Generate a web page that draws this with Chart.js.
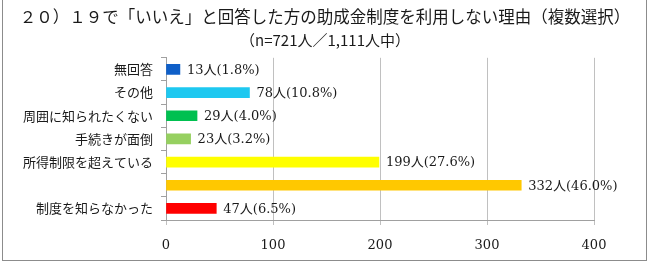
<!DOCTYPE html>
<html>
<head>
<meta charset="utf-8">
<script src="https://cdn.jsdelivr.net/npm/chart.js@4"></script>
<style>
    html, body { margin: 0; padding: 0; background: #fff; }
    #wrap { width: 650px; height: 263px; }
</style>
</head>
<body>
<div id="wrap"><canvas id="reasonChart" width="650" height="263"></canvas></div>
<script>
const titleText = '２０）１９で「いいえ」と回答した方の助成金制度を利用しない理由（複数選択）';
const subtitleText = '（n=721人／1,111人中）';

const categories = ['無回答', 'その他', '周囲に知られたくない', '手続きが面倒', '所得制限を超えている', '', '制度を知らなかった'];
const counts = [13, 78, 29, 23, 199, 332, 47];
const valueLabels = ['13人(1.8%)', '78人(10.8%)', '29人(4.0%)', '23人(3.2%)', '199人(27.6%)', '332人(46.0%)', '47人(6.5%)'];
const barColors = ['#0f5fc8', '#1ec8f0', '#00c050', '#96d060', '#ffff00', '#ffc800', '#ff0000'];
const xTicks = [0, 100, 200, 300, 400];

const jpFont = '"Noto Sans CJK JP", "Noto Sans", sans-serif';
const numFont = '"DejaVu Serif", "Noto Sans CJK JP", serif';

// frame around the whole picture
const framePlugin = {
    id: 'frame',
    afterDraw(chart) {
        const ctx = chart.ctx;
        ctx.save();
        ctx.strokeStyle = '#8c8c8c';
        ctx.lineWidth = 1;
        ctx.strokeRect(2.5, -0.5, 644, 261);
        ctx.restore();
    }
};

// "13人(1.8%)" style labels at the end of each bar
const valueLabelPlugin = {
    id: 'valueLabels',
    afterDatasetsDraw(chart) {
        const ctx = chart.ctx;
        const meta = chart.getDatasetMeta(0);
        ctx.save();
        ctx.font = '13px ' + numFont;
        ctx.fillStyle = '#1a1a1a';
        ctx.textBaseline = 'middle';
        meta.data.forEach((bar, i) => {
            ctx.fillText(valueLabels[i], bar.x + 7, bar.y + 1);
        });
        ctx.restore();
    }
};

const ctx = document.getElementById('reasonChart').getContext('2d');
new Chart(ctx, {
    type: 'bar',
    data: {
        labels: categories,
        datasets: [{
            data: counts,
            backgroundColor: barColors,
            barThickness: 10
        }]
    },
    options: {
        indexAxis: 'y',
        responsive: false,
        animation: false,
        layout: {
            padding: 0
        },
        plugins: {
            legend: { display: false },
            tooltip: { enabled: false },
            title: {
                display: true,
                text: titleText,
                color: '#1a1a1a',
                font: { family: jpFont, size: 16.5, weight: 'normal' },
                padding: { top: 7, bottom: 3 }
            },
            subtitle: {
                display: true,
                text: subtitleText,
                color: '#1a1a1a',
                font: { family: jpFont, size: 15, weight: 'normal' },
                padding: { top: 1, bottom: 9 }
            }
        },
        scales: {
            x: {
                min: 0,
                max: 400,
                afterBuildTicks(scale) {
                    scale.ticks = xTicks.map(v => ({ value: v }));
                },
                afterFit(scale) {
                    scale.height = 43;
                },
                grid: {
                    color: '#c0c0c0',
                    tickLength: 5,
                    tickColor: '#c0c0c0'
                },
                border: { color: '#a0a0a0' },
                ticks: {
                    color: '#1a1a1a',
                    padding: 13,
                    font: { family: numFont, size: 13 }
                }
            },
            y: {
                afterFit(scale) {
                    scale.width = 166;
                },
                grid: {
                    drawOnChartArea: false,
                    offset: true,
                    tickLength: 5,
                    tickColor: '#a0a0a0'
                },
                border: { color: '#a0a0a0' },
                ticks: {
                    color: '#1a1a1a',
                    padding: 8,
                    font: { family: jpFont, size: 13 }
                }
            },
            // empty space to the right of the plot, so the title stays centred on the page
            yRight: {
                position: 'right',
                afterFit(scale) {
                    scale.width = 56;
                },
                grid: { display: false },
                border: { display: false },
                ticks: { display: false }
            }
        }
    },
    plugins: [framePlugin, valueLabelPlugin]
});
</script>
</body>
</html>
